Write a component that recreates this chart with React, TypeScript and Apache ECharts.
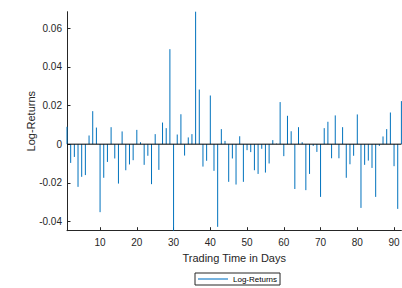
import React, { useEffect, useRef } from "react";
import * as echarts from "echarts";

const days: number[] = Array.from({ length: 92 }, (_, i) => i + 1);
const logReturns: number[] = [
  0.009, -0.0097, -0.0066, -0.0221, -0.0169, -0.016, 0.0045, 0.0171, 0.0086, -0.0352,
  -0.0174, -0.0092, 0.0088, -0.0074, -0.0204, 0.0066, -0.0135, -0.0105, -0.0083, 0.0074,
  0.001, -0.0107, -0.006, -0.0207, 0.0052, -0.0133, 0.0112, 0.0083, 0.0492, -0.0448,
  0.005, 0.0155, -0.0059, 0.0035, 0.0052, 0.0686, 0.0283, -0.0116, -0.0086, 0.0252,
  -0.0138, -0.0428, 0.0078, 0.0017, -0.0195, -0.0074, -0.0209, 0.0041, -0.0195, -0.0031,
  -0.0041, -0.0135, -0.0154, -0.0024, -0.0147, -0.01, 0.0021, 0.0003, 0.0218, -0.0062,
  0.0147, 0.0067, -0.0232, 0.0088, 0.001, -0.0238, -0.0154, -0.0009, -0.004, -0.0273,
  0.0083, 0.0116, -0.0073, 0.0149, -0.0073, 0.0088, -0.0174, -0.0104, -0.006, 0.0154,
  -0.033, -0.0107, -0.0085, -0.0123, -0.0273, -0.0009, 0.004, 0.0078, 0.0164, -0.0114,
  -0.0335, 0.0223,
];
const xTicks: number[] = [10, 20, 30, 40, 50, 60, 70, 80, 90];
const yTicks: number[] = [-0.04, -0.02, 0, 0.02, 0.04, 0.06];
const seriesName = "Log-Returns";

export default function App() {
  const ref = useRef<HTMLDivElement>(null);
  useEffect(() => {
    if (!ref.current) return;
    const chart = echarts.init(ref.current, null, { renderer: "svg" });
    const data = days.map((d, i) => [d, logReturns[i]]);
    const axisColor = "#262626";
    const font = "Liberation Sans, Arial, Helvetica, sans-serif";
    chart.setOption({
      animation: false,
      backgroundColor: "#ffffff",
      grid: {
        left: 67,
        right: 0.6,
        top: 11.7,
        bottom: 57.3,
        containLabel: false,
        outerBoundsMode: "none",
      },
      legend: {
        show: true,
        left: 195,
        top: 273,
        orient: "horizontal",
        padding: [2, 3, 2, 3],
        itemWidth: 30,
        itemHeight: 1.5,
        itemGap: 4,
        backgroundColor: "#ffffff",
        borderColor: axisColor,
        borderWidth: 1,
        borderRadius: 0,
        textStyle: { fontSize: 8, color: "#000000", fontFamily: font },
        data: [{ name: seriesName, icon: "rect", itemStyle: { color: "#4A9AD4" } }],
      },
      xAxis: {
        type: "value",
        min: 1,
        max: 92,
        name: "Trading Time in Days",
        nameLocation: "middle",
        nameGap: 21,
        nameTextStyle: { fontSize: 11, color: axisColor, fontFamily: font },
        axisLine: { show: true, onZero: false, lineStyle: { color: axisColor, width: 1 } },
        axisTick: {
          show: true,
          inside: true,
          length: 3.5,
          customValues: xTicks,
          lineStyle: { color: axisColor, width: 1 },
        },
        axisLabel: {
          show: true,
          customValues: xTicks,
          margin: 7,
          fontSize: 10,
          color: axisColor,
          fontFamily: font,
        },
        splitLine: { show: false },
      },
      yAxis: {
        type: "value",
        min: -0.0448,
        max: 0.0686,
        name: "Log-Returns",
        nameLocation: "middle",
        nameRotate: 90,
        nameGap: 31,
        nameMoveOverlap: false,
        nameTextStyle: { fontSize: 11, color: axisColor, fontFamily: font },
        axisLine: { show: true, onZero: false, lineStyle: { color: axisColor, width: 1 } },
        axisTick: {
          show: true,
          inside: true,
          length: 3.5,
          customValues: yTicks,
          lineStyle: { color: axisColor, width: 1 },
        },
        axisLabel: {
          show: true,
          customValues: yTicks,
          margin: 5,
          fontSize: 10,
          color: axisColor,
          fontFamily: font,
          formatter: (v: number) => (Math.abs(v) < 1e-9 ? "0" : v.toFixed(2)),
        },
        splitLine: { show: false },
      },
      series: [
        {
          name: seriesName,
          type: "custom",
          color: "#0072BD",
          encode: { x: 0, y: 1 },
          data,
          renderItem: (params: any, api: any) => {
            const x = api.value(0);
            const v = api.value(1);
            const p0 = api.coord([x, 0]);
            const p1 = api.coord([x, v]);
            return {
              type: "line",
              shape: { x1: p0[0], y1: p0[1], x2: p1[0], y2: p1[1] },
              style: { stroke: "#0072BD", lineWidth: 1 },
            };
          },
        },
        {
          name: "baseline",
          type: "line",
          data: [
            [1, 0],
            [92, 0],
          ],
          symbol: "none",
          lineStyle: { color: "#000000", width: 1 },
          itemStyle: { color: "#000000" },
          silent: true,
          z: 5,
        },
      ],
    });
    return () => chart.dispose();
  }, []);
  return (
    <div
      ref={ref}
      style={{ position: "fixed", left: 0, top: 0, width: 402, height: 288 }}
    />
  );
}
